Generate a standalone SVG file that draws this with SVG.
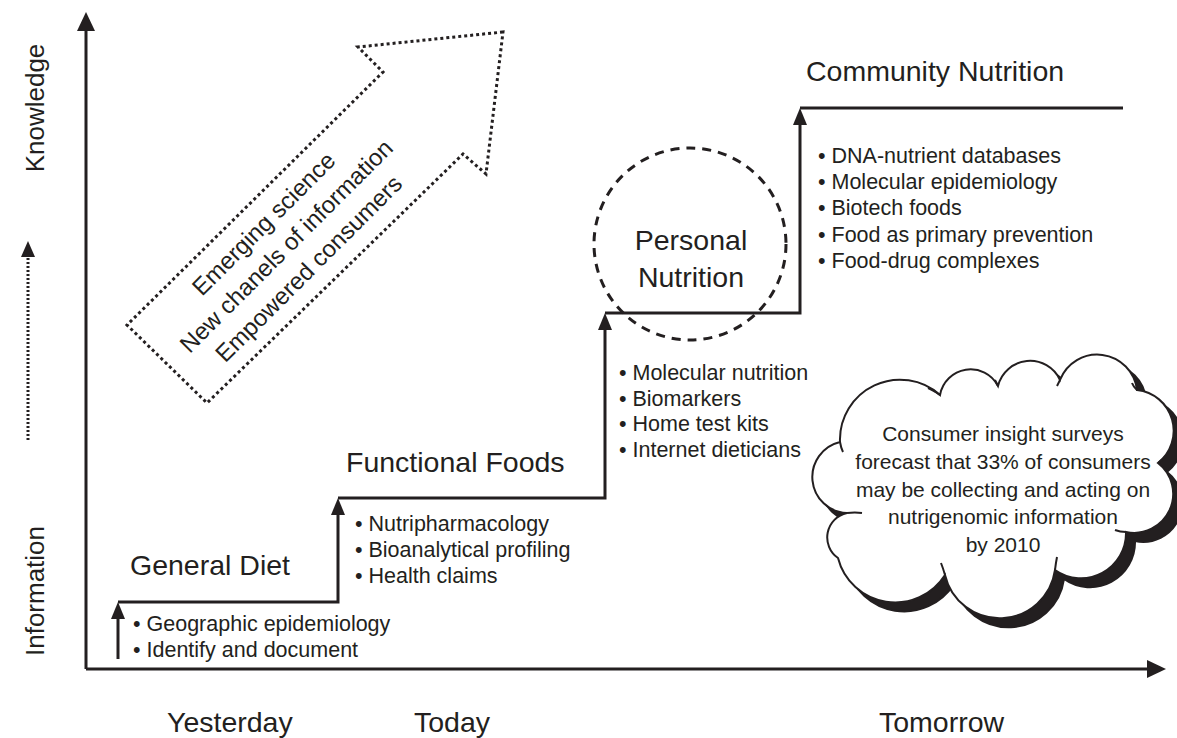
<svg xmlns="http://www.w3.org/2000/svg" width="1177" height="738" viewBox="0 0 1177 738">
<style>
text{font-family:"Liberation Sans",Arial,sans-serif;fill:#231f20}
.t{font-size:28.5px}
.b{font-size:21.5px}
.ax{font-size:26px}
.ln{stroke:#231f20;stroke-width:3;fill:none}
.cloudtxt{font-size:21px;text-anchor:middle}
.tail{fill:none;stroke:#231f20;stroke-width:2}
</style>
<rect width="1177" height="738" fill="#fff"/>

<g id="axes">
<path d="M86,669 L86,30" class="ln" stroke-width="3.5"/>
<path d="M77,31 L86,12 L95,31 z" fill="#231f20"/>
<path d="M86,669 L1148,669" class="ln" stroke-width="3.5"/>
<path d="M1147,660 L1166,669 L1147,678 z" fill="#231f20"/>
<text class="ax" transform="translate(44,108) rotate(-90)" text-anchor="middle">Knowledge</text>
<text class="ax" transform="translate(44,591) rotate(-90)" text-anchor="middle">Information</text>
<path d="M28,440 L28,256" stroke="#231f20" stroke-width="3" stroke-dasharray="2 2" fill="none"/>
<path d="M21,257 L28,241 L35,257 z" fill="#231f20"/>
<text class="t" x="167" y="732">Yesterday</text>
<text class="t" x="414" y="732">Today</text>
<text class="t" x="879" y="732">Tomorrow</text>
</g>

<g id="connectors">
<path d="M118,659 L118,618" class="ln"/>
<path d="M111,619 L118,602 L125,619 z" fill="#231f20"/>
<path d="M118,602 L338,602 L338,514" class="ln"/>
<path d="M331,515 L338,498 L345,515 z" fill="#231f20"/>
<path d="M338,498 L605,498 L605,329" class="ln"/>
<path d="M598,330 L605,313 L612,330 z" fill="#231f20"/>
<path d="M605,313 L800,313 L800,124" class="ln"/>
<path d="M793,125 L800,108 L807,125 z" fill="#231f20"/>
<path d="M800,108 L1123,108" class="ln"/>
</g>

<g id="trend-arrow">
<path d="M503,32 L358,47 L383,72 L127,325 L207,403 L463,154 L486,174 Z" fill="none" stroke="#231f20" stroke-width="3" stroke-dasharray="3 3"/>
<g transform="translate(292,252) rotate(-45)">
<text x="0" y="-31.8" font-size="24" text-anchor="middle">Emerging science</text>
<text x="0" y="0" font-size="24" text-anchor="middle">New chanels of information</text>
<text x="0" y="31.8" font-size="24" text-anchor="middle">Empowered consumers</text>
</g>
</g>

<g id="general-diet">
<text class="t" x="130" y="575">General Diet</text>
<text class="b" x="133" y="631">• Geographic epidemiology</text>
<text class="b" x="133" y="657">• Identify and document</text>
</g>

<g id="functional-foods">
<text class="t" x="346" y="472">Functional Foods</text>
<text class="b" x="355" y="531">• Nutripharmacology</text>
<text class="b" x="355" y="557">• Bioanalytical profiling</text>
<text class="b" x="355" y="583">• Health claims</text>
</g>

<g id="personal-nutrition">
<circle cx="690" cy="244" r="96" fill="none" stroke="#231f20" stroke-width="3" stroke-dasharray="9 7"/>
<text class="t" x="691" y="250" text-anchor="middle">Personal</text>
<text class="t" x="691" y="287" text-anchor="middle">Nutrition</text>
<text class="b" x="619" y="380">• Molecular nutrition</text>
<text class="b" x="619" y="406">• Biomarkers</text>
<text class="b" x="619" y="431">• Home test kits</text>
<text class="b" x="619" y="457">• Internet dieticians</text>
</g>

<g id="community-nutrition">
<text class="t" x="806" y="81" font-size="29.5">Community Nutrition</text>
<text class="b" x="818" y="163">• DNA-nutrient databases</text>
<text class="b" x="818" y="189">• Molecular epidemiology</text>
<text class="b" x="818" y="215">• Biotech foods</text>
<text class="b" x="818" y="242">• Food as primary prevention</text>
<text class="b" x="818" y="268">• Food-drug complexes</text>
</g>

<g id="cloud">
<defs>
<path id="cloudshape" d="M840,442 A60,60 0 0 1 940,395 A31,31 0 0 1 998,386 A33,33 0 0 1 1060,380 A40,40 0 0 1 1137,390 A41,41 0 0 1 1158,463 A39,39 0 0 1 1126,532 A45,45 0 0 1 1055,570 A56,56 0 0 1 945,575 A59,59 0 0 1 838,558 A25,25 0 0 1 847,513 A36,36 0 0 1 840,442 Z"/>
</defs>
<use href="#cloudshape" transform="translate(9,9)" fill="#231f20" stroke="#231f20" stroke-width="2"/>
<use href="#cloudshape" fill="#fff" stroke="#231f20" stroke-width="2"/>
<path class="tail" d="M840,442 Q841,448 843,452"/>
<path class="tail" d="M940,395 Q933,390 928,388"/>
<path class="tail" d="M998,386 Q996,382 995,380"/>
<path class="tail" d="M1060,380 Q1058,384 1057,386"/>
<path class="tail" d="M1137,390 Q1133,386 1132,383"/>
<path class="tail" d="M1158,463 Q1162,460 1166,456"/>
<path class="tail" d="M1126,532 Q1120,532 1115,530"/>
<path class="tail" d="M1055,570 Q1056,562 1057,557"/>
<path class="tail" d="M945,575 Q943,568 941,563"/>
<path class="tail" d="M847,513 Q855,512 862,513"/>
<text class="cloudtxt" x="1003" y="441">Consumer insight surveys</text>
<text class="cloudtxt" x="1003" y="469">forecast that 33% of consumers</text>
<text class="cloudtxt" x="1003" y="497">may be collecting and acting on</text>
<text class="cloudtxt" x="1003" y="524">nutrigenomic information</text>
<text class="cloudtxt" x="1003" y="552">by 2010</text>
</g>
</svg>
